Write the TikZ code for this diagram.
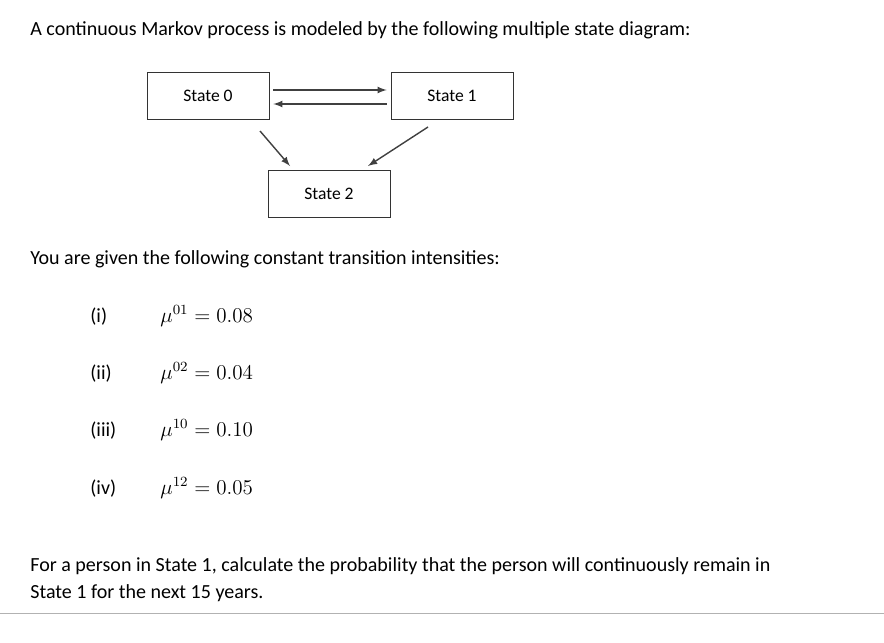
\documentclass[tikz,border=0pt]{standalone}
\usepackage{fontspec}
\setmainfont{Carlito}
\usetikzlibrary{positioning, calc}
\tikzstyle{statebox} = [rectangle, minimum width=2.44cm, minimum height=0.94cm, text centered, draw=black!80, font=\fontsize{10}{12}\selectfont]
\tikzstyle{arrow} = [thick, draw=black!75, ->, >=latex]
\tikzstyle{txt} = [anchor=base west, inner sep=0pt, font=\fontsize{11.4}{13}\selectfont]
\begin{document}
\begin{tikzpicture}[x=0.02cm, y=-0.02cm]
    \useasboundingbox (0,0) rectangle (884,642);
    % Text
    \node (title) [txt] at (30,36) {A continuous Markov process is modeled by the following multiple state diagram:};
    % States
    \node (s0) [statebox] at (208,96) {State 0};
    \node (s1) [statebox] at (452,96) {State 1};
    \node (s2) [statebox] at (329,194) {State 2};
    % Arrows
    \draw [arrow] ($(s0.east)+(4,-6)$) -- ($(s1.west)+(-4,-6)$);
    \draw [arrow] ($(s1.west)+(-4,8)$) -- ($(s0.east)+(4,8)$);
    \draw [arrow] (260,131) -- (290,166);
    \draw [arrow] (428,127) -- (368,166);
    % Intensities
    \node (given) [txt] at (30,264) {You are given the following constant transition intensities:};
    \node (i) [txt] at (90,322) {(i)};
    \node (ii) [txt] at (90,379) {(ii)};
    \node (iii) [txt] at (90,436) {(iii)};
    \node (iv) [txt] at (90,494) {(iv)};
    \node (m1) [txt, font=\fontsize{12}{14}\selectfont] at (160,322) {$\mu^{01}=0.08$};
    \node (m2) [txt, font=\fontsize{12}{14}\selectfont] at (160,379) {$\mu^{02}=0.04$};
    \node (m3) [txt, font=\fontsize{12}{14}\selectfont] at (160,436) {$\mu^{10}=0.10$};
    \node (m4) [txt, font=\fontsize{12}{14}\selectfont] at (160,494) {$\mu^{12}=0.05$};
    % Question
    \node (q1) [txt] at (30,571) {For a person in State 1, calculate the probability that the person will continuously remain in};
    \node (q2) [txt] at (30,598) {State 1 for the next 15 years.};
    \draw [black!30] (0,613) -- (884,613);
\end{tikzpicture}
\end{document}
